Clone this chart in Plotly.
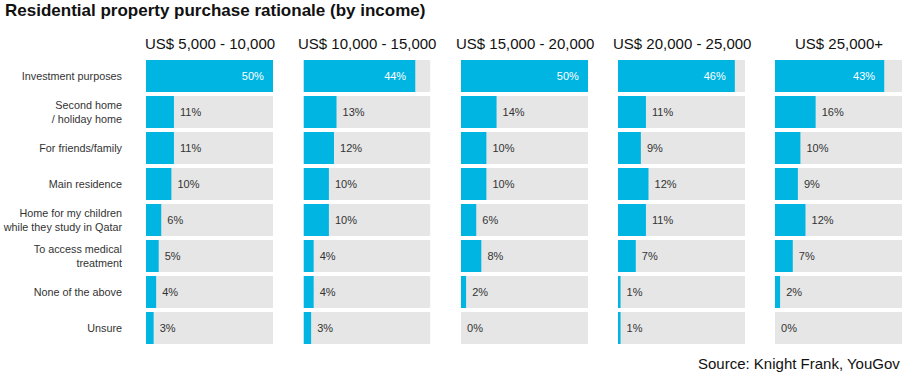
import plotly.graph_objects as go

categories = ["Investment purposes", "Second home<br>/ holiday home", "For friends/family",
              "Main residence", "Home for my children<br>while they study in Qatar",
              "To access medical<br>treatment", "None of the above", "Unsure"]
panels = ["US$ 5,000 - 10,000", "US$ 10,000 - 15,000", "US$ 15,000 - 20,000",
          "US$ 20,000 - 25,000", "US$ 25,000+"]
values_5_10 = [50, 11, 11, 10, 6, 5, 4, 3]
values_10_15 = [44, 13, 12, 10, 10, 4, 4, 3]
values_15_20 = [50, 14, 10, 10, 6, 8, 2, 0]
values_20_25 = [46, 11, 9, 12, 11, 7, 1, 1]
values_25_plus = [43, 16, 10, 9, 12, 7, 2, 0]
scale_max = 50

all_values = [values_5_10, values_10_15, values_15_20, values_20_25, values_25_plus]

W, H = 904, 376
L, R, T, B = 146, 2, 58, 30
plot_w = W - L - R
panel_w = 127
starts = [146, 303.5, 461, 618, 775]

BLUE = "#00B5E2"
GREY = "#E6E6E6"
DARK = "#333333"
FONT = "Liberation Sans"

fig = go.Figure()
for i, vals in enumerate(all_values):
    xa = "x" if i == 0 else f"x{i+1}"
    ya = "y" if i == 0 else f"y{i+1}"
    fig.add_trace(go.Bar(
        y=categories, x=[scale_max] * len(categories), orientation="h",
        marker=dict(color=GREY, line=dict(width=0)), hoverinfo="skip",
        xaxis=xa, yaxis=ya, showlegend=False))
    big = [v >= 40 for v in vals]
    texts = [(f"{v}%\u00a0\u00a0" if b else f"\u00a0{v}%") for v, b in zip(vals, big)]
    fig.add_trace(go.Bar(
        y=categories, x=vals, orientation="h",
        marker=dict(color=BLUE, line=dict(width=0)),
        text=texts,
        textposition=["inside" if b else "outside" for b in big],
        insidetextanchor="end",
        textfont=dict(family=FONT, size=11, color=["white" if b else DARK for b in big]),
        constraintext="none", cliponaxis=False,
        xaxis=xa, yaxis=ya, showlegend=False))

layout = dict(
    width=W, height=H, barmode="overlay", bargap=0.11,
    margin=dict(l=L, r=R, t=T, b=B),
    paper_bgcolor="white", plot_bgcolor="white",
    font=dict(family=FONT, color=DARK),
    title=dict(text="<b>Residential property purchase rationale (by income)</b>",
               x=5 / W, xanchor="left", y=1 - 10 / H, yanchor="middle",
               font=dict(family=FONT, size=17, color="#111111")),
    annotations=[],
)
for i in range(5):
    sfx = "" if i == 0 else str(i + 1)
    d0 = (starts[i] - L) / plot_w
    d1 = (starts[i] + panel_w - L) / plot_w
    layout[f"xaxis{sfx}"] = dict(domain=[d0, min(d1, 1)], range=[0, scale_max],
                                 visible=False, fixedrange=True)
    layout[f"yaxis{sfx}"] = dict(anchor=f"x{sfx}", autorange="reversed",
                                 showticklabels=(i == 0), showgrid=False, zeroline=False,
                                 showline=False, ticks="", ticklabelstandoff=23,
                                 tickfont=dict(family=FONT, size=10.8, color=DARK))
    layout["annotations"].append(dict(
        text=panels[i], x=(d0 + min(d1, 1)) / 2, xref="paper", y=1, yref="paper",
        yanchor="bottom", xanchor="center", yshift=4, showarrow=False,
        font=dict(family=FONT, size=15, color="#111111")))
layout["annotations"].append(dict(
    text="Source: Knight Frank, YouGov", x=1, xref="paper", xanchor="right",
    y=0, yref="paper", yanchor="middle", yshift=-17, showarrow=False,
    font=dict(family=FONT, size=15, color="#111111")))

fig.update_layout(**layout)
fig.write_html("out.html", config={"displayModeBar": False},
               post_script="document.body.style.margin='0';")
